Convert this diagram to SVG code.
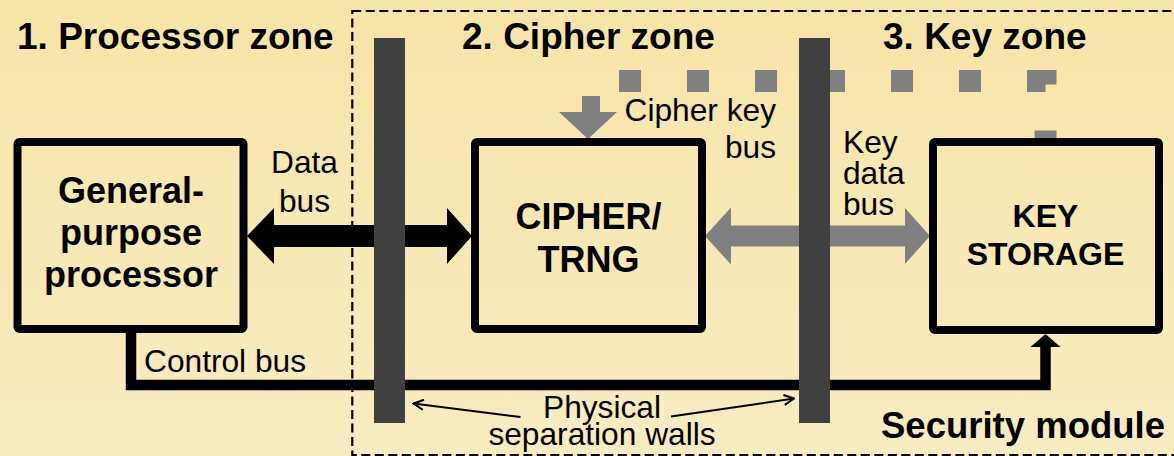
<svg xmlns="http://www.w3.org/2000/svg" width="1174" height="456" viewBox="0 0 1174 456">
  <defs>
    <linearGradient id="bg" x1="0" y1="0" x2="0" y2="1">
      <stop offset="0" stop-color="#F7E4A8"/>
      <stop offset="1" stop-color="#F9ECC2"/>
    </linearGradient>
    <marker id="thinArrow" viewBox="0 0 12 12" refX="11" refY="6" markerWidth="12" markerHeight="12" markerUnits="userSpaceOnUse" orient="auto">
      <path d="M1,1 L11,6 L1,11" fill="none" stroke="#000" stroke-width="2"/>
    </marker>
    <style>
      .title { font-family: "Liberation Sans", Arial, sans-serif; font-weight: bold; font-size: 37px; fill: #000; }
      .boxtxt { font-family: "Liberation Sans", Arial, sans-serif; font-weight: bold; font-size: 36px; fill: #000; text-anchor: middle; }
      .boxtxt-s { font-family: "Liberation Sans", Arial, sans-serif; font-weight: bold; font-size: 32px; fill: #000; text-anchor: middle; }
      .lbl { font-family: "Liberation Sans", Arial, sans-serif; font-size: 31.7px; fill: #000; }
      .box { fill: none; stroke: #000; stroke-width: 8; }
      .wall { fill: #404040; }
      .zone { fill: none; stroke: #000; stroke-width: 2.2; stroke-dasharray: 9 4.5; }
    </style>
  </defs>

  <rect x="0" y="0" width="1174" height="456" fill="url(#bg)"/>

  <!-- security module dashed boundary -->
  <g id="security-module">
    <rect class="zone" x="352.3" y="11" width="840" height="444"/>
    <text class="title" x="881" y="438" style="font-size:36.5px">Security module</text>
  </g>

  <!-- zone titles -->
  <g id="zone-titles">
    <text class="title" x="17" y="49">1. Processor zone</text>
    <text class="title" x="462" y="49">2. Cipher zone</text>
    <text class="title" x="883" y="49">3. Key zone</text>
  </g>

  <!-- connectors -->
  <g id="connectors">
    <!-- cipher key bus (dotted) -->
    <path d="M619,81 H1045.5 V138" fill="none" stroke="#808080" stroke-width="22" stroke-dasharray="22 46" stroke-linejoin="miter"/>
    <polygon points="582,96 600,96 600,112 617,112 588,139 559,112 582,112" fill="#808080"/>
    <!-- data bus -->
    <polygon points="247,236 274,208 274,225 447,225 447,208 472,236 447,264 447,247 274,247 274,264" fill="#000"/>
    <!-- key data bus -->
    <polygon points="705,236 731,207.5 731,225.5 905,225.5 905,208 930,236 905,264 905,246.5 731,246.5 731,264.5" fill="#808080"/>
    <!-- control bus -->
    <path d="M131,333 V385 H1045.5 V344" fill="none" stroke="#000" stroke-width="10.5" stroke-linejoin="miter"/>
    <polygon points="1030.5,347 1045.5,334 1060.5,347" fill="#000"/>
    <!-- pointers to walls -->
    <line x1="520.5" y1="417" x2="413.5" y2="403.5" stroke="#000" stroke-width="2" marker-end="url(#thinArrow)"/>
    <line x1="671" y1="416.5" x2="794" y2="398.5" stroke="#000" stroke-width="2" marker-end="url(#thinArrow)"/>
  </g>

  <!-- nodes -->
  <g id="processor">
    <rect class="box" x="17.5" y="142" width="226" height="187" rx="2"/>
    <text class="boxtxt" x="131" y="203">General-</text>
    <text class="boxtxt" x="131" y="245">purpose</text>
    <text class="boxtxt" x="131" y="287">processor</text>
  </g>

  <g id="cipher">
    <rect class="box" x="475" y="142" width="227" height="187" rx="2"/>
    <text class="boxtxt" x="588.5" y="229">CIPHER/</text>
    <text class="boxtxt" x="588.5" y="272">TRNG</text>
  </g>

  <g id="key-storage">
    <rect class="box" x="933" y="142" width="226" height="188" rx="2"/>
    <text class="boxtxt-s" x="1045.5" y="227">KEY</text>
    <text class="boxtxt-s" x="1045.5" y="265">STORAGE</text>
  </g>

  <!-- separation walls -->
  <g id="walls">
    <rect class="wall" x="374" y="38" width="31" height="385"/>
    <rect class="wall" x="799" y="38" width="31" height="385"/>
  </g>

  <!-- connector labels -->
  <g id="labels">
    <text class="lbl" x="304.5" y="173" text-anchor="middle">Data</text>
    <text class="lbl" x="304.5" y="211.5" text-anchor="middle">bus</text>
    <text class="lbl" x="776" y="121" text-anchor="end">Cipher key</text>
    <text class="lbl" x="776" y="158" text-anchor="end">bus</text>
    <text class="lbl" x="843" y="153">Key</text>
    <text class="lbl" x="843" y="184">data</text>
    <text class="lbl" x="843" y="215">bus</text>
    <text class="lbl" x="144" y="371.5">Control bus</text>
    <text class="lbl" x="602" y="418" text-anchor="middle">Physical</text>
    <text class="lbl" x="602" y="445" text-anchor="middle">separation walls</text>
  </g>
</svg>
